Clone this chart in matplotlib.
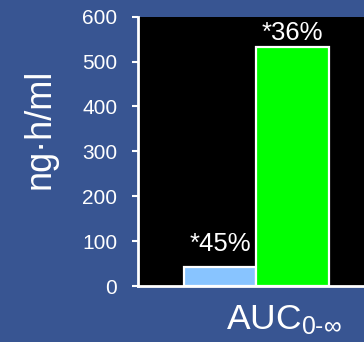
import matplotlib
matplotlib.use("Agg")
import matplotlib.pyplot as plt

# Data
categories = ["A", "B"]
values = [42, 533]
pct_labels = ["*45%", "*36%"]
yticks = [0, 100, 200, 300, 400, 500, 600]

# Styling
bg = "#385592"
bar_colors = ["#88c4ff", "#00ff00"]
label_offsets = [8, 1.5]  # points above bar top

plt.rcParams["font.family"] = ["Liberation Sans", "DejaVu Sans"]
plt.rcParams["mathtext.fontset"] = "custom"
plt.rcParams["mathtext.rm"] = "Liberation Sans"
plt.rcParams["mathtext.it"] = "Liberation Sans"

fig = plt.figure(figsize=(3.64, 3.42), dpi=100, facecolor=bg)
W, H = 364, 342
ax = fig.add_axes([138 / W, (H - 286) / H, (W - 138) / W, (286 - 16.7) / H])
ax.set_facecolor("black")

x = list(range(len(categories)))
bars = ax.bar(x, values, width=1.0, color=bar_colors,
              edgecolor="white", linewidth=1.6, zorder=3)

for b, lab, off in zip(bars, pct_labels, label_offsets):
    ax.annotate(lab, (b.get_x() + b.get_width() / 2, b.get_height()),
                xytext=(0, off), textcoords="offset points",
                ha="center", va="bottom", color="white", fontsize=18.5)

ax.set_xlim(-1.13, 1.987)
ax.set_ylim(0, 600)
ax.set_yticks(yticks)
ax.set_xticks([])
ax.tick_params(axis="y", colors="white", labelcolor="white", labelsize=15,
               length=4, width=1.5, pad=11)

for s in ("top", "right"):
    ax.spines[s].set_visible(False)
for s in ("left", "bottom"):
    ax.spines[s].set_color("white")
    ax.spines[s].set_linewidth(2)

fig.text(40 / W, 1 - 129 / H, "ng·h/ml", rotation=90, ha="center",
         va="center", color="white", fontsize=26)
fig.text(284 / W, 1 - 320 / H, r"AUC$_{\mathregular{0\text{-}\infty}}$",
         ha="center", va="center", color="white", fontsize=25.5)

fig.savefig("out.png", dpi=100, facecolor=bg)
